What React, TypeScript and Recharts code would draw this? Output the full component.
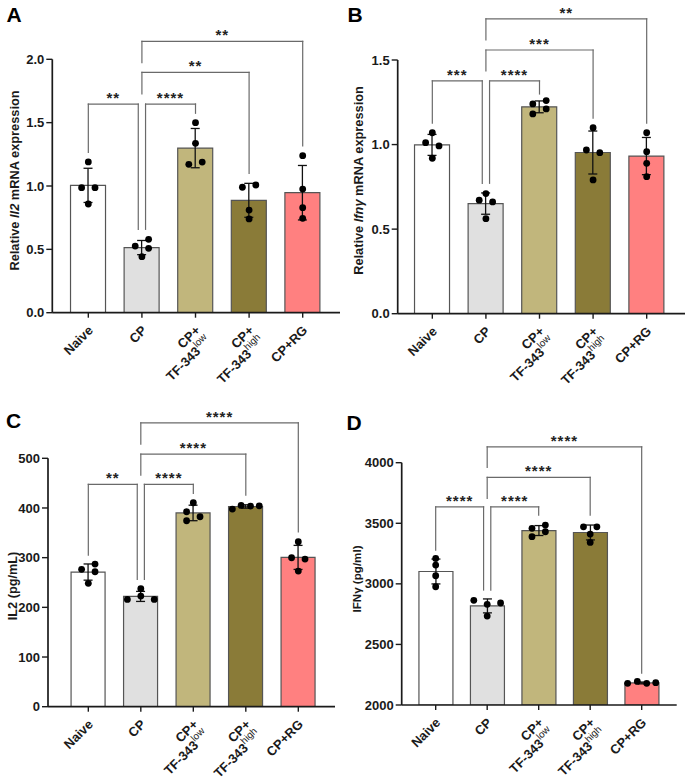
import React from 'react';
import {
  ComposedChart,
  Bar,
  Cell,
  ErrorBar,
  Scatter,
  XAxis,
  YAxis,
  ReferenceLine,
  Label,
} from 'recharts';

const FONT = '"Liberation Sans", Arial, Helvetica, sans-serif';
const INK = '#1a1a1a';
const BRACKET = '#6a6a6a';

// Treatment groups (x positions 0..4)
const groupLabels: string[][] = [
  ['Naive'],
  ['CP'],
  ['CP+', 'TF-343', 'low'],
  ['CP+', 'TF-343', 'high'],
  ['CP+RG'],
];
const groupColors = ['#ffffff', '#e0e0e0', '#c1b67c', '#8a7b38', '#ff8080'];
const CONTROL = 1;

type Bracket = { from: number; to: number; y: number; fromEnd: number; toEnd: number; label: string };

// A: relative Il2 mRNA
const il2MrnaMean = [1.005, 0.514, 1.299, 0.887, 0.947];
const il2MrnaSd = [0.135, 0.056, 0.155, 0.134, 0.215];
const il2MrnaPoints = [
  [1.19, 0.987, 0.987, 0.858],
  [0.579, 0.526, 0.508, 0.442],
  [1.5, 1.337, 1.171, 1.189],
  [0.99, 1.008, 0.81, 0.74],
  [1.239, 0.976, 0.829, 0.745],
];
const il2MrnaSpread = [
  [0, -1, 1, 0],
  [1, -1, 1, 0],
  [0, 0, -1, 1],
  [-1, 1, 0, 0],
  [0, 0, 0, 0],
];
const il2MrnaTicks = [0, 0.5, 1, 1.5, 2];
const il2MrnaBrackets: Bracket[] = [
  { from: 1, to: 4, y: 2.142, fromEnd: 1.973, toEnd: 1.316, label: '**' },
  { from: 1, to: 3, y: 1.897, fromEnd: 1.726, toEnd: 1.1, label: '**' },
  { from: 0, to: 1, y: 1.647, fromEnd: 1.266, toEnd: 0.658, label: '**' },
  { from: 1, to: 2, y: 1.647, fromEnd: 0.658, toEnd: 1.574, label: '****' },
];

// B: relative Ifng mRNA
const ifngMrnaMean = [0.998, 0.651, 1.223, 0.953, 0.932];
const ifngMrnaSd = [0.062, 0.063, 0.035, 0.127, 0.11];
const ifngMrnaPoints = [
  [1.07, 1.011, 0.992, 0.919],
  [0.71, 0.671, 0.661, 0.562],
  [1.24, 1.26, 1.181, 1.211],
  [1.1, 0.968, 0.952, 0.791],
  [1.07, 0.958, 0.889, 0.81],
];
const ifngMrnaSpread = [
  [0, -1, 1, 0],
  [0, -1, 1, 0],
  [-1, 1, -1, 1],
  [0, -1, 1, 0],
  [0, 0, 0, 0],
];
const ifngMrnaTicks = [0, 0.5, 1, 1.5];
const ifngMrnaBrackets: Bracket[] = [
  { from: 1, to: 4, y: 1.743, fromEnd: 1.619, toEnd: 1.126, label: '**' },
  { from: 1, to: 3, y: 1.559, fromEnd: 1.435, toEnd: 1.156, label: '***' },
  { from: 0, to: 1, y: 1.376, fromEnd: 1.126, toEnd: 0.771, label: '***' },
  { from: 1, to: 2, y: 1.376, fromEnd: 0.771, toEnd: 1.299, label: '****' },
];

// C: IL2 protein (pg/mL)
const il2ProteinMean = [271, 222, 390, 403, 300.5];
const il2ProteinSd = [16.3, 10.1, 15.6, 3.4, 24.2];
const il2ProteinPoints = [
  [287, 276.5, 271.6, 248.3],
  [237.4, 222.7, 216, 216],
  [410.5, 392.4, 382.3, 374.3],
  [397.8, 405.2, 403.8, 404.4],
  [332, 299.8, 297.2, 273],
];
const il2ProteinSpread = [
  [1, -1, 1, 0],
  [0, 0, -2, 2],
  [0, -1, 1, -1],
  [-2, -0.7, 0.7, 2],
  [0, -1, 1, 0],
];
const il2ProteinTicks = [0, 100, 200, 300, 400, 500];
const il2ProteinBrackets: Bracket[] = [
  { from: 1, to: 4, y: 571.4, fromEnd: 528.6, toEnd: 352.1, label: '****' },
  { from: 1, to: 3, y: 508.5, fromEnd: 466.2, toEnd: 426, label: '****' },
  { from: 0, to: 1, y: 447.5, fromEnd: 305.2, toEnd: 256.3, label: '**' },
  { from: 1, to: 2, y: 447.5, fromEnd: 256.3, toEnd: 429.4, label: '****' },
];

// D: IFNγ protein (pg/ml)
const ifngProteinMean = [3102, 2818, 3440, 3424, 2182];
const ifngProteinSd = [102.6, 57.5, 41, 61.4, 7.5];
const ifngProteinPoints = [
  [3210, 3155, 3067, 2976],
  [2864, 2831, 2842, 2734],
  [3458, 3485, 3430, 3389],
  [3471, 3471, 3411, 3342],
  [2179, 2195, 2179, 2184],
];
const ifngProteinSpread = [
  [0, 0, 0, 0],
  [-2, 0, 2, 0],
  [-1, 1, 1, -1],
  [-1, 1, 0, 0],
  [-2.1, -0.65, 0.75, 2.1],
];
const ifngProteinTicks = [2000, 2500, 3000, 3500, 4000];
const ifngProteinBrackets: Bracket[] = [
  { from: 1, to: 4, y: 4131, fromEnd: 3961, toEnd: 2262, label: '****' },
  { from: 1, to: 3, y: 3879, fromEnd: 3705, toEnd: 3568, label: '****' },
  { from: 0, to: 1, y: 3636, fromEnd: 3279, toEnd: 2949, label: '****' },
  { from: 1, to: 2, y: 3636, fromEnd: 2949, toEnd: 3568, label: '****' },
];

type PanelSpec = {
  letter: string;
  letterX: number;
  letterY: number;
  means: number[];
  sds: number[];
  points: number[][];
  spread: number[][];
  ticks: number[];
  decimals: number;
  yDomain: [number, number];
  xDomain: [number, number];
  brackets: Bracket[];
  title: React.ReactNode;
  titleX: number;
  titleY: number;
  titleSize: number;
  left: number;
  top: number;
  width: number;
  height: number;
  plotTop: number;
  plotRight: number;
  yAxisWidth: number;
  xAxisHeight: number;
  barSize: number;
  dotStep: number;
  nudge: number;
};

const panels: PanelSpec[] = [
  {
    letter: 'A', letterX: 6.5, letterY: 21.7,
    means: il2MrnaMean, sds: il2MrnaSd, points: il2MrnaPoints, spread: il2MrnaSpread,
    ticks: il2MrnaTicks, decimals: 1, yDomain: [0, 2], xDomain: [-0.672, 4.696],
    brackets: il2MrnaBrackets,
    title: (<>Relative <tspan fontStyle="italic">Il2</tspan> mRNA expression</>),
    titleX: 14, titleY: 180.5, titleSize: 12.8,
    left: 0, top: 0, width: 345, height: 392,
    plotTop: 59.3, plotRight: 5, yAxisWidth: 52.3, xAxisHeight: 79.3,
    barSize: 35, dotStep: 0.125, nudge: 0.068,
  },
  {
    letter: 'B', letterX: 347.5, letterY: 22,
    means: ifngMrnaMean, sds: ifngMrnaSd, points: ifngMrnaPoints, spread: ifngMrnaSpread,
    ticks: ifngMrnaTicks, decimals: 1, yDomain: [0, 1.5], xDomain: [-0.646, 4.715],
    brackets: ifngMrnaBrackets,
    title: (<>Relative <tspan fontStyle="italic">Ifnγ</tspan> mRNA expression</>),
    titleX: 13.3, titleY: 180.5, titleSize: 12.8,
    left: 345, top: 0, width: 344, height: 392,
    plotTop: 60, plotRight: 4, yAxisWidth: 52.7, xAxisHeight: 78.3,
    barSize: 35, dotStep: 0.125, nudge: 0.068,
  },
  {
    letter: 'C', letterX: 6, letterY: 428.3,
    means: il2ProteinMean, sds: il2ProteinSd, points: il2ProteinPoints, spread: il2ProteinSpread,
    ticks: il2ProteinTicks, decimals: 0, yDomain: [0, 500], xDomain: [-0.768, 4.699],
    brackets: il2ProteinBrackets,
    title: 'IL2 (pg/mL)',
    titleX: 13.3, titleY: 194, titleSize: 12.7,
    left: 0, top: 392, width: 345, height: 392,
    plotTop: 66.3, plotRight: 10, yAxisWidth: 48, xAxisHeight: 77.3,
    barSize: 34, dotStep: 0.128, nudge: 0.068,
  },
  {
    letter: 'D', letterX: 346.5, letterY: 430,
    means: ifngProteinMean, sds: ifngProteinSd, points: ifngProteinPoints, spread: ifngProteinSpread,
    ticks: ifngProteinTicks, decimals: 0, yDomain: [2000, 4000], xDomain: [-0.66, 4.68],
    brackets: ifngProteinBrackets,
    title: 'IFNγ (pg/ml)',
    titleX: 11.7, titleY: 187, titleSize: 11.6,
    left: 345, top: 392, width: 344, height: 392,
    plotTop: 70.7, plotRight: 12.3, yAxisWidth: 56.7, xAxisHeight: 79,
    barSize: 34, dotStep: 0.13, nudge: 0.07,
  },
];

// Rotated two-line category label with a superscript dose
const GroupTick = (props: any) => {
  const { x, y, payload } = props;
  const lines = groupLabels[payload.value];
  if (!lines) return null;
  return (
    <g transform={`translate(${x + 5.5},${y + 11.5}) rotate(-45)`}>
      <text textAnchor="end" fontFamily={FONT} fontWeight="bold" fontSize={13} fill={INK}>
        <tspan x={0} dy={0}>{lines[0]}</tspan>
        {lines.length > 1 && (
          <tspan x={0} dy={15}>
            {lines[1]}
            <tspan dy={-6} fontSize={9.8} fontWeight="normal">{lines[2]}</tspan>
          </tspan>
        )}
      </text>
    </g>
  );
};

const DotShape = (p: any) => <circle cx={p.cx} cy={p.cy} r={3.4} fill="#000" />;

function Panel({ spec }: { spec: PanelSpec }) {
  const barData = spec.means.map((m, i) => ({ x: i, mean: m, sd: spec.sds[i] }));
  const dotData = spec.points.flatMap((vals, i) =>
    vals.map((v, j) => ({ x: i + spec.spread[i][j] * spec.dotStep, y: v }))
  );
  const legX = (i: number, other: number) =>
    i === CONTROL && Math.abs(other - i) === 1 ? i + Math.sign(other - i) * spec.nudge : i;

  // category band padding so the band axis lines up with the numeric overlay axis
  const plotWidth = spec.width - spec.yAxisWidth - spec.plotRight;
  const unitPx = plotWidth / (spec.xDomain[1] - spec.xDomain[0]);
  const padLeft = (-spec.xDomain[0] - 0.5) * unitPx;
  const padRight = (spec.xDomain[1] - (spec.means.length - 0.5)) * unitPx;

  const lineProps = {
    xAxisId: 'num',
    stroke: BRACKET,
    strokeWidth: 1.2,
    strokeLinecap: 'square' as const,
    ifOverflow: 'visible' as const,
  };

  return (
    <div style={{ position: 'absolute', left: spec.left, top: spec.top }}>
      <ComposedChart
        width={spec.width}
        height={spec.height}
        data={barData}
        margin={{ top: spec.plotTop, right: spec.plotRight, bottom: 0, left: 0 }}
      >
        <XAxis
          xAxisId="cat"
          type="category"
          dataKey="x"
          padding={{ left: padLeft, right: padRight }}
          interval={0}
          height={spec.xAxisHeight}
          tickSize={5}
          tickMargin={2}
          axisLine={{ stroke: INK, strokeWidth: 1.7 }}
          tickLine={{ stroke: INK, strokeWidth: 1.4 }}
          tick={(p: any) => <GroupTick {...p} />}
        />
        <XAxis
          xAxisId="num"
          type="number"
          dataKey="x"
          domain={spec.xDomain}
          allowDataOverflow
          hide
        />
        <YAxis
          type="number"
          domain={spec.yDomain}
          ticks={spec.ticks}
          allowDataOverflow
          interval={0}
          width={spec.yAxisWidth}
          tickSize={6}
          tickMargin={2}
          axisLine={{ stroke: INK, strokeWidth: 1.7 }}
          tickLine={{ stroke: INK, strokeWidth: 1.4 }}
          tick={{ fontFamily: FONT, fontWeight: 'bold', fontSize: 13, fill: INK }}
          tickFormatter={(v: number) => v.toFixed(spec.decimals)}
        >
          <Label
            content={() => (
              <text
                x={spec.titleX}
                y={spec.titleY}
                transform={`rotate(-90, ${spec.titleX}, ${spec.titleY})`}
                textAnchor="middle"
                dominantBaseline="central"
                fontFamily={FONT}
                fontWeight="bold"
                fontSize={spec.titleSize}
                fill={INK}
              >
                {spec.title}
              </text>
            )}
          />
        </YAxis>
        <Bar
          xAxisId="cat"
          dataKey="mean"
          barSize={spec.barSize}
          stroke="#555"
          strokeWidth={1.2}
          isAnimationActive={false}
        >
          {barData.map((_, i) => (
            <Cell key={i} fill={groupColors[i]} />
          ))}
          <ErrorBar dataKey="sd" direction="y" width={4.5} stroke="#111" strokeWidth={1.3} />
        </Bar>
        <Scatter
          xAxisId="num"
          data={dotData}
          dataKey="y"
          isAnimationActive={false}
          shape={DotShape}
        />
        {spec.brackets.map((b, k) => {
          const x1 = legX(b.from, b.to);
          const x2 = legX(b.to, b.from);
          return (
            <React.Fragment key={k}>
              <ReferenceLine
                {...lineProps}
                segment={[{ x: x1, y: b.y }, { x: x2, y: b.y }]}
                label={{
                  value: b.label,
                  position: 'top',
                  offset: 1,
                  fill: '#222',
                  fontSize: 15,
                  fontWeight: 'bold',
                  fontFamily: FONT,
                  letterSpacing: 1,
                }}
              />
              <ReferenceLine {...lineProps} segment={[{ x: x1, y: b.y }, { x: x1, y: b.fromEnd }]} />
              <ReferenceLine {...lineProps} segment={[{ x: x2, y: b.y }, { x: x2, y: b.toEnd }]} />
            </React.Fragment>
          );
        })}
      </ComposedChart>
    </div>
  );
}

export default function App() {
  return (
    <div
      style={{
        position: 'absolute',
        left: 0,
        top: 0,
        width: 689,
        height: 784,
        background: '#fff',
        fontFamily: FONT,
      }}
    >
      {panels.map((p) => (
        <Panel key={p.letter} spec={p} />
      ))}
      <svg
        width={689}
        height={784}
        style={{ position: 'absolute', left: 0, top: 0, pointerEvents: 'none' }}
      >
        {panels.map((p) => (
          <text
            key={p.letter}
            x={p.letterX}
            y={p.letterY}
            fontFamily={FONT}
            fontWeight="bold"
            fontSize={21}
            fill="#000"
          >
            {p.letter}
          </text>
        ))}
      </svg>
    </div>
  );
}
